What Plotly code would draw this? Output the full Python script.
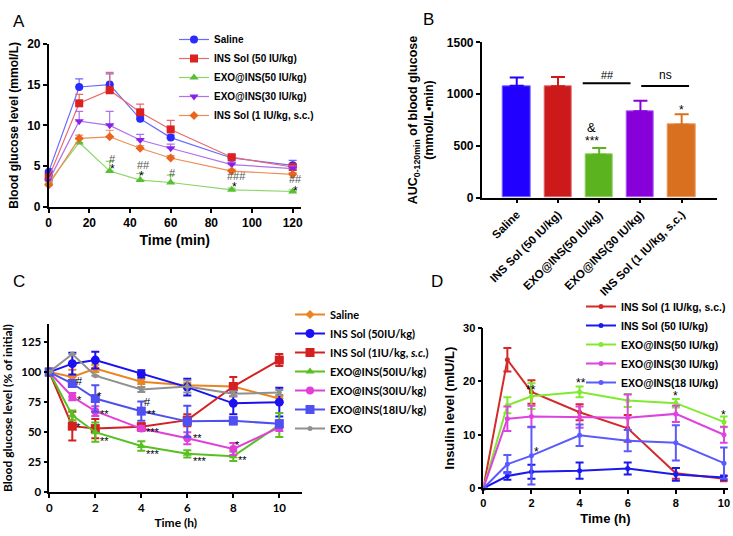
import plotly.graph_objects as go

# ---------------- Panel A data ----------------
a_time = [0, 15, 30, 45, 60, 90, 120]
a_names = ["Saline", "INS Sol (50 IU/kg)", "EXO@INS(50 IU/kg)", "EXO@INS(30 IU/kg)", "INS Sol (1 IU/kg, s.c.)"]
a_saline = [4.3, 14.7, 15.0, 10.8, 8.5, 6.0, 5.1]
a_inssol50 = [3.6, 12.7, 14.3, 11.6, 9.5, 6.1, 4.9]
a_exo50 = [3.0, 7.9, 4.4, 3.3, 3.0, 2.1, 1.9]
a_exo30 = [3.2, 10.5, 10.0, 8.2, 7.2, 5.2, 4.7]
a_inssol1 = [2.7, 8.4, 8.6, 7.2, 6.0, 4.4, 4.0]
a_saline_err = [0.4, 1.0, 1.3, 0.3, 0.3, 0.4, 0.6]
a_inssol50_err = [0.3, 1.1, 2.2, 1.0, 1.1, 0.3, 0.3]
a_exo50_err = [0.2, 0.4, 1.2, 0.8, 0.9, 0.2, 0.2]
a_exo30_err = [0.3, 1.2, 1.7, 0.7, 0.5, 0.3, 0.3]
a_inssol1_err = [0.2, 0.4, 0.8, 0.3, 0.3, 0.2, 0.2]

# ---------------- Panel B data ----------------
b_groups = ["Saline", "INS Sol (50 IU/kg)", "EXO@INS(50 IU/kg)", "EXO@INS(30 IU/kg)", "INS Sol (1 IU/kg, s.c.)"]
b_auc = [1080, 1075, 415, 835, 705]
b_err = [80, 90, 65, 100, 100]

# ---------------- Panel C data ----------------
c_time = [0, 1, 2, 4, 6, 8, 10]
c_names = ["Saline", "INS Sol (50IU/kg)", "INS Sol (1IU/kg, <i>s.c.</i>)", "EXO@INS(50IU/kg)",
           "EXO@INS(30IU/kg)", "EXO@INS(18IU/kg)", "EXO"]
c_saline = [100, 96, 103, 92, 89, 88, 78]
c_inssol50 = [100, 107, 110, 98.5, 87.5, 74, 75]
c_inssol1 = [100, 55, 53, 54.5, 60, 88, 110]
c_exo50 = [100, 64, 50, 38.5, 32, 30, 56]
c_exo30 = [100, 79.5, 67.5, 53, 45, 36, 54]
c_exo18 = [100, 90.5, 78, 67.5, 59, 59.5, 57]
c_exo = [100, 115, 97, 85.5, 88, 82, 83]
c_saline_err = [0, 6, 3, 2, 2, 3, 2]
c_inssol50_err = [0, 9, 7, 3, 7, 9, 12]
c_inssol1_err = [0, 12, 8, 3, 5, 8, 5]
c_exo50_err = [0, 4, 8, 4, 3, 4, 10]
c_exo30_err = [0, 3, 4, 2, 5, 5, 3]
c_exo18_err = [0, 3, 11, 8, 13, 3, 3]
c_exo_err = [0, 0, 0, 2, 5, 2, 2]

# ---------------- Panel D data ----------------
d_time = [0, 1, 2, 4, 6, 8, 10]
d_names = ["INS Sol (1 IU/kg, s.c.)", "INS Sol (50 IU/kg)", "EXO@INS(50 IU/kg)", "EXO@INS(30 IU/kg)", "EXO@INS(18 IU/kg)"]
d_inssol1 = [0, 24, 18, 14.2, 11.2, 2.8, 1.8]
d_inssol50 = [0, 2.3, 3.1, 3.3, 3.7, 2.6, 2.0]
d_exo50 = [0, 15.5, 17.2, 18.0, 16.4, 15.9, 12.4]
d_exo30 = [0, 13.0, 13.4, 13.3, 13.2, 13.9, 10.0]
d_exo18 = [0, 4.5, 6.1, 9.9, 8.9, 8.5, 4.7]
d_inssol1_err = [0, 2.2, 2.2, 1.5, 2.5, 1.0, 0.5]
d_inssol50_err = [0, 0.7, 1.3, 1.5, 1.1, 1.2, 0.4]
d_exo50_err = [0, 1.5, 2.4, 1.0, 1.2, 0.8, 1.0]
d_exo30_err = [0, 2.3, 2.0, 2.0, 4.3, 1.5, 1.5]
d_exo18_err = [0, 1.7, 5.4, 2.0, 2.0, 3.3, 2.9]

W, H = 733, 536
ARIAL = "Liberation Sans, Arial, sans-serif"
CAL = "Lato, sans-serif"

def px(x):
    return x / W

def py(y):
    return 1 - y / H

fig = go.Figure()

# ---------- Panel A traces ----------
a_series = [
    (a_saline, a_saline_err, "#2a2aff", "#6a6aff", "circle", 8),
    (a_inssol50, a_inssol50_err, "#dd2020", "#e86a6a", "square", 8),
    (a_exo50, a_exo50_err, "#58c030", "#8ad66a", "triangle-up", 8),
    (a_exo30, a_exo30_err, "#8a20e8", "#b070f0", "triangle-down", 8),
    (a_inssol1, a_inssol1_err, "#e8651e", "#ee8c55", "diamond", 7),
]
for name, (vals, err, mc, lc, sym, sz) in zip(a_names, a_series):
    fig.add_trace(go.Scatter(
        x=a_time, y=vals, name=name, mode="lines+markers",
        line=dict(color=lc, width=1.2),
        marker=dict(color=mc, symbol=sym, size=sz),
        error_y=dict(type="data", symmetric=False, array=err, arrayminus=[0] * len(err),
                     color=lc, thickness=1.2, width=4),
        xaxis="x", yaxis="y", legend="legend", cliponaxis=False))

# ---------- Panel B traces ----------
b_colors = ["#2200ff", "#cc1a1a", "#5cb320", "#8800d9", "#d97020"]
b_edges = ["#7a6aff", "#e06a6a", "#8ad060", "#b060ff", "#ea9a5a"]
b_x = list(range(len(b_groups)))
for i in b_x:
    fig.add_trace(go.Bar(
        x=[b_x[i]], y=[b_auc[i]], width=0.66, showlegend=False,
        marker=dict(color=b_colors[i], line=dict(color=b_edges[i], width=1)),
        error_y=dict(type="data", symmetric=False, array=[b_err[i]], arrayminus=[0],
                     color=b_colors[i], thickness=2, width=7),
        xaxis="x2", yaxis="y2"))

# ---------- Panel C traces ----------
c_series = [
    (c_saline, c_saline_err, "#ea8520", "diamond", 7),
    (c_inssol50, c_inssol50_err, "#1a10f0", "circle", 9),
    (c_inssol1, c_inssol1_err, "#d42020", "square", 9),
    (c_exo50, c_exo50_err, "#58c020", "triangle-up", 8),
    (c_exo30, c_exo30_err, "#e040d8", "circle", 8),
    (c_exo18, c_exo18_err, "#5050f0", "square", 9),
    (c_exo, c_exo_err, "#909090", "circle", 5),
]
for name, (vals, err, col, sym, sz) in zip(c_names, c_series):
    fig.add_trace(go.Scatter(
        x=c_time, y=vals, name=name, mode="lines+markers",
        line=dict(color=col, width=2),
        marker=dict(color=col, symbol=sym, size=sz),
        error_y=dict(type="data", array=err, color=col, thickness=2, width=4),
        xaxis="x3", yaxis="y3", legend="legend2", cliponaxis=False))

# ---------- Panel D traces ----------
d_series = [
    (d_inssol1, d_inssol1_err, "#d42a2a"),
    (d_inssol50, d_inssol50_err, "#1a1aee"),
    (d_exo50, d_exo50_err, "#80ea30"),
    (d_exo30, d_exo30_err, "#dd44dd"),
    (d_exo18, d_exo18_err, "#5a5aff"),
]
for name, (vals, err, col) in zip(d_names, d_series):
    fig.add_trace(go.Scatter(
        x=d_time, y=vals, name=name, mode="lines+markers",
        line=dict(color=col, width=2),
        marker=dict(color=col, symbol="circle", size=5),
        error_y=dict(type="data", array=err, color=col, thickness=2, width=4),
        xaxis="x4", yaxis="y4", legend="legend3", cliponaxis=False))

# ---------- axes ----------
def axstyle(font, size, **kw):
    d = dict(showline=True, linecolor="black", linewidth=1.5, ticks="outside",
             ticklen=4, tickwidth=1.5, tickcolor="black", showgrid=False, zeroline=False,
             automargin=False,
             tickfont=dict(family=font, size=size, color="black", weight="bold"))
    d.update(kw)
    return d

layout = dict(
    width=W, height=H, margin=dict(l=0, r=0, t=0, b=0, autoexpand=False),
    paper_bgcolor="white", plot_bgcolor="white", bargap=0,
    xaxis=axstyle(ARIAL, 12, domain=[px(48.7), px(300.8)], range=[0, 124],
                  tickvals=[0, 20, 40, 60, 80, 100, 120], anchor="y",
                  title=dict(text="Time (min)", font=dict(family=ARIAL, size=14, weight="bold", color="black"), standoff=6)),
    yaxis=axstyle(ARIAL, 12, domain=[py(207), py(43.7)], range=[0, 20],
                  tickvals=[0, 5, 10, 15, 20], anchor="x",
                  title=dict(text="Blood glucose level (mmol/L)", font=dict(family=ARIAL, size=12, weight="bold", color="black"), standoff=6)),
    xaxis2=axstyle(ARIAL, 11.5, domain=[px(481.7), px(716.7)], range=[-0.85, 4.85],
                   tickvals=b_x, ticktext=b_groups, tickangle=-45, anchor="y2"),
    yaxis2=axstyle(ARIAL, 12, domain=[py(197.7), py(42.3)], range=[0, 1500],
                   tickvals=[0, 500, 1000, 1500], anchor="x2",
                   title=dict(text="AUC<sub>0-120min</sub> of blood glucose<br>(mmol/L•min)",
                              font=dict(family=ARIAL, size=12.5, weight="bold", color="black"), standoff=10)),
    xaxis3=axstyle(CAL, 11.5, domain=[px(49.3), px(302.3)], range=[0, 11],
                   tickvals=[0, 2, 4, 6, 8, 10], anchor="y3",
                   title=dict(text="Time (h)", font=dict(family=CAL, size=12, weight="bold", color="black"), standoff=6)),
    yaxis3=axstyle(CAL, 11.5, domain=[py(492.3), py(324)], range=[0, 140],
                   tickvals=[0, 25, 50, 75, 100, 125], anchor="x3",
                   title=dict(text="Blood glucose level (% of initial)", font=dict(family=CAL, size=12, weight="bold", color="black"), standoff=6)),
    xaxis4=axstyle(ARIAL, 11, domain=[px(483.3), px(727.6)], range=[0, 10.15],
                   tickvals=[0, 2, 4, 6, 8, 10], anchor="y4",
                   title=dict(text="Time (h)", font=dict(family=ARIAL, size=13, weight="bold", color="black"), standoff=6)),
    yaxis4=axstyle(ARIAL, 11, domain=[py(488.3), py(327.7)], range=[0, 30],
                   tickvals=[0, 10, 20, 30], anchor="x4",
                   title=dict(text="Insulin level (mIU/L)", font=dict(family=ARIAL, size=13, weight="bold", color="black"), standoff=6)),
    legend=dict(x=px(174), y=py(25), xanchor="left", yanchor="top", bgcolor="rgba(0,0,0,0)",
                font=dict(family=ARIAL, size=10, weight="bold", color="black"), itemwidth=30, tracegroupgap=0),
    legend2=dict(x=px(290), y=py(300), xanchor="left", yanchor="top", bgcolor="rgba(0,0,0,0)",
                 font=dict(family=CAL, size=11, weight="bold", color="black"), itemwidth=30, tracegroupgap=0),
    legend3=dict(x=px(581), y=py(292), xanchor="left", yanchor="top", bgcolor="rgba(0,0,0,0)",
                 font=dict(family=ARIAL, size=10.5, weight="bold", color="black"), itemwidth=30, tracegroupgap=0),
    showlegend=True,
)
fig.update_layout(**layout)

ann = []
# panel letters
for letter, x, y in [("A", 11, 10), ("B", 428, 8), ("C", 11, 281), ("D", 437, 281)]:
    ann.append(dict(text=letter, x=px(x), y=py(y), xref="paper", yref="paper", showarrow=False,
                    font=dict(family=ARIAL, size=17, color="black")))

# panel A significance marks
a_marks = [("#", 31.5, 5.9, "#555"), ("*", 31.5, 4.6, "black"), ("##", 46.5, 5.2, "#555"),
           ("*", 45.8, 3.8, "black"), ("#", 60.8, 4.2, "#555"), ("###", 92.5, 3.8, "#555"),
           ("*", 91.5, 2.4, "black"), ("##", 121.5, 3.4, "#555"), ("*", 121.5, 2.0, "black")]
for t, x, y, c in a_marks:
    ann.append(dict(text=t, x=x, y=y, xref="x", yref="y", showarrow=False,
                    font=dict(family=ARIAL, size=11 if t.startswith("#") else 12, color=c)))

# panel B marks
b_marks = [("&", 1.82, 680, 13), ("***", 1.82, 545, 12), ("*", 4.0, 845, 12),
           ("##", 2.2, 1180, 11), ("ns", 3.6, 1180, 12)]
for t, x, y, s in b_marks:
    ann.append(dict(text=t, x=x, y=y, xref="x2", yref="y2", showarrow=False,
                    font=dict(family=ARIAL, size=s, color="black")))
shapes = [
    dict(type="line", x0=1.6, x1=2.76, y0=1104, y1=1104, xref="x2", yref="y2", line=dict(color="black", width=2)),
    dict(type="line", x0=3.02, x1=4.18, y0=1078, y1=1078, xref="x2", yref="y2", line=dict(color="black", width=2)),
]

# panel C marks
c_marks = [("#", 1.32, 92.5), ("*", 1.3, 77), ("*", 1.25, 54.5), ("*", 2.2, 80), ("**", 2.4, 65),
           ("**", 2.38, 43), ("#", 4.25, 75.5), ("**", 4.45, 65.5), ("***", 4.5, 50.5),
           ("***", 4.5, 32), ("**", 6.45, 45), ("***", 6.55, 26), ("*", 8.2, 39.5), ("**", 8.4, 26.5)]
for t, x, y in c_marks:
    ann.append(dict(text=t, x=x, y=y, xref="x3", yref="y3", showarrow=False,
                    font=dict(family=ARIAL, size=11, color="black")))

# panel D marks
d_marks = [("**", 2.0, 18.4), ("**", 4.05, 19.6), ("*", 8.0, 17.2), ("*", 10.0, 13.6), ("*", 2.2, 6.7)]
for t, x, y in d_marks:
    ann.append(dict(text=t, x=x, y=y, xref="x4", yref="y4", showarrow=False,
                    font=dict(family=ARIAL, size=12, color="black")))

fig.update_layout(annotations=ann, shapes=shapes)
fig.write_html("out.html", config={"displayModeBar": False},
               post_script="document.body.style.margin='0';document.body.style.overflow='hidden';")
